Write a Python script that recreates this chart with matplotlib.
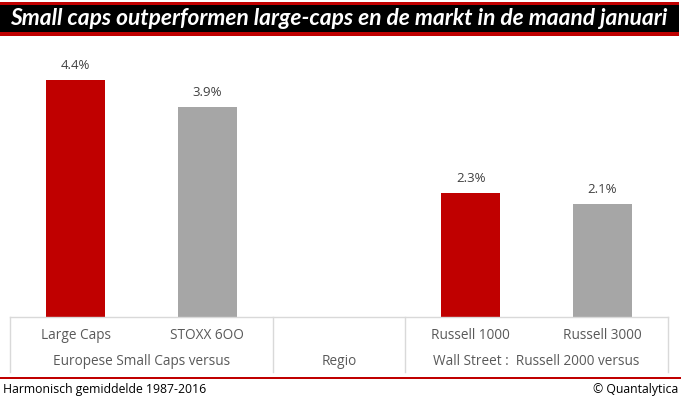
import matplotlib
matplotlib.use("Agg")
import matplotlib.pyplot as plt
from matplotlib.patches import Rectangle
from matplotlib.lines import Line2D

# ---- data ----
categories = ["Large Caps", "STOXX 6OO", "", "Russell 1000", "Russell 3000"]
values = [4.4, 3.9, None, 2.3, 2.1]
value_labels = ["4.4%", "3.9%", "", "2.3%", "2.1%"]
bar_colors = ["#C00000", "#A6A6A6", "#FFFFFF", "#C00000", "#A6A6A6"]
groups = [("Europese Small Caps versus", 0, 1), ("Regio", 2, 2),
          ("Wall Street :  Russell 2000 versus", 3, 4)]
title = "Small caps outperformen large-caps en de markt in de maand januari"
footer_left = "Harmonisch gemiddelde 1987-2016"
footer_right = "© Quantalytica"

W, H = 681, 399
fig = plt.figure(figsize=(W / 100, H / 100), dpi=100)
fig.patch.set_facecolor("white")

def fx(px):
    return px / W

def fy(py):
    return 1 - py / H

# ---- title bar ----
fig.patches.append(Rectangle((fx(0), fy(4.5)), fx(679), 2.5 / H, transform=fig.transFigure,
                             facecolor="#C00000", edgecolor="none"))
fig.patches.append(Rectangle((fx(0), fy(32.5)), fx(679), 28 / H, transform=fig.transFigure,
                             facecolor="#000000", edgecolor="none"))
fig.patches.append(Rectangle((fx(0), fy(35.5)), fx(679), 3 / H, transform=fig.transFigure,
                             facecolor="#C00000", edgecolor="none"))
fig.text(fx(10), fy(18.5), title, color="white", fontsize=16.4, fontweight="bold",
         fontstyle="italic", family="Lato", ha="left", va="center")

# ---- axes ----
ax_left, ax_right = 10, 668
ax_top, ax_bottom = 40, 317
ax = fig.add_axes([fx(ax_left), fy(ax_bottom), fx(ax_right - ax_left), (ax_bottom - ax_top) / H])
xs = list(range(len(categories)))
plot_vals = [v if v is not None else 0 for v in values]
ax.bar(xs, plot_vals, width=0.45, color=bar_colors, edgecolor="none", zorder=2)
ax.set_xlim(-0.5, len(categories) - 0.5)
ax.set_ylim(0, 5.15)
for x, v, lab in zip(xs, plot_vals, value_labels):
    if lab:
        ax.annotate(lab, (x, v), xytext=(0, 6), textcoords="offset points",
                    ha="center", va="bottom", fontsize=9.5, color="#404040", family="Open Sans")
ax.set_xticks([])
ax.set_yticks([])
for s in ["top", "left", "right"]:
    ax.spines[s].set_visible(False)
ax.spines["bottom"].set_color("#D9D9D9")
ax.spines["bottom"].set_linewidth(1)

# ---- category axis (two levels) ----
trans = ax.get_xaxis_transform()
line_col = "#D9D9D9"
sep_positions = [-0.5, 1.5, 2.5, 4.5]
for sp in sep_positions:
    ax.add_line(Line2D([sp, sp], [0, -55 / (ax_bottom - ax_top)], transform=trans,
                       color=line_col, lw=1, clip_on=False))
for x, c in zip(xs, categories):
    if c:
        ax.text(x, -18.5 / (ax_bottom - ax_top), c, transform=trans, ha="center", va="center",
                fontsize=9.8, color="#595959", family="Open Sans")
for name, a, b in groups:
    ax.text((a + b) / 2, -44.5 / (ax_bottom - ax_top), name, transform=trans, ha="center",
            va="center", fontsize=9.8, color="#595959", family="Open Sans")

# ---- footer ----
fig.patches.append(Rectangle((fx(0), fy(379)), fx(681), 2.5 / H, transform=fig.transFigure,
                             facecolor="#C00000", edgecolor="none"))
fig.text(fx(3), fy(389.5), footer_left, fontsize=8.8, color="black", family="Open Sans",
         ha="left", va="center")
fig.text(fx(678), fy(389.5), footer_right, fontsize=8.8, color="black", family="Open Sans",
         ha="right", va="center")

fig.savefig("out.png", dpi=100, facecolor="white")
